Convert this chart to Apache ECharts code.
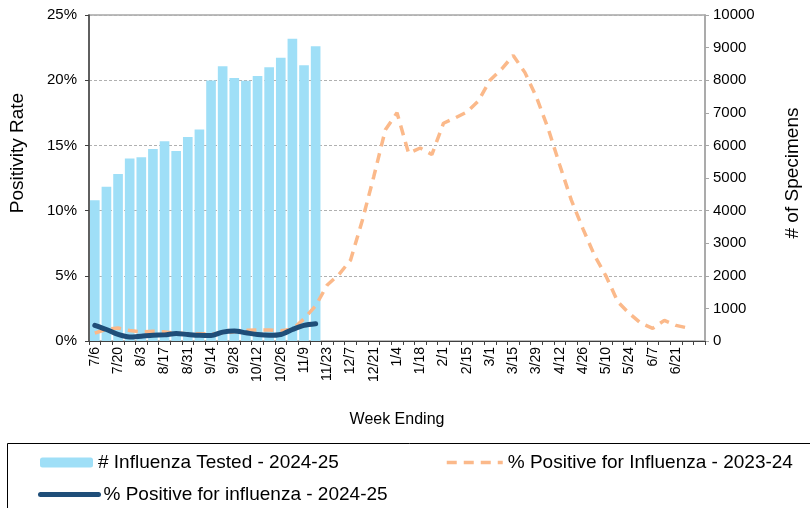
<!DOCTYPE html>
<html>
<head>
<meta charset="utf-8">
<script src="https://cdn.jsdelivr.net/npm/echarts@6/dist/echarts.min.js"></script>
<style>
  html, body { margin: 0; padding: 0; background: #fff; }
  #chart { width: 810px; height: 508px; }
</style>
</head>
<body>
<div id="chart"></div>
<script>
// week ending dates (season runs July to July)
const weeks = ['7/6','7/13','7/20','7/27','8/3','8/10','8/17','8/24','8/31','9/7','9/14','9/21','9/28',
  '10/5','10/12','10/19','10/26','11/2','11/9','11/16','11/23','11/30','12/7','12/14','12/21','12/28',
  '1/4','1/11','1/18','1/25','2/1','2/8','2/15','2/22','3/1','3/8','3/15','3/22','3/29','4/5','4/12',
  '4/19','4/26','5/3','5/10','5/17','5/24','5/31','6/7','6/14','6/21','6/28','7/5'];

// # influenza tested 2024-25 (right axis)
const tested2425 = [4320, 4730, 5120, 5600, 5640, 5890, 6130, 5830, 6260, 6490,
  7990, 8430, 8070, 7980, 8130, 8400, 8690, 9270, 8460, 9040];

// % positive 2024-25 (left axis)
const pos2425 = [1.2, 0.88, 0.5, 0.3, 0.37, 0.45, 0.47, 0.57, 0.5, 0.44,
  0.42, 0.68, 0.76, 0.63, 0.5, 0.44, 0.5, 0.88, 1.2, 1.33];

// % positive 2023-24 (left axis)
const pos2324 = [0.6, 0.9, 1.0, 0.8, 0.7, 0.75, 0.7, 0.6, 0.55, 0.55, 0.55, 0.6, 0.7,
  0.82, 0.85, 0.85, 0.78, 0.9, 1.7, 2.7, 4.3, 5.1, 6.2, 9.2, 12.6, 16.2,
  17.5, 14.4, 14.8, 14.3, 16.7, 17.1, 17.55, 18.4, 20.0, 20.85, 21.9, 20.6, 18.7, 16.3, 13.5,
  10.8, 8.6, 6.55, 4.95, 3.0, 2.1, 1.35, 0.97, 1.58, 1.2, 1.0];

const FONT = 'Liberation Sans, Arial, sans-serif';
const legendText = { fontSize: 19, fontFamily: FONT, color: '#000' };

const myChart = echarts.init(document.getElementById('chart'));
const option = {
  animation: false,
  textStyle: { fontFamily: FONT, color: '#000' },
  grid: {
    left: 89, right: 95, top: 15, bottom: 167,
    show: true, borderColor: '#a6a6a6', borderWidth: 1.5
  },
  legend: [
    {
      data: ['# Influenza Tested - 2024-25'],
      left: 35, top: 448,
      itemWidth: 53, itemHeight: 10,
      textStyle: legendText
    },
    {
      data: ['% Positive for Influenza - 2023-24'],
      left: 440, top: 448,
      itemWidth: 56, itemHeight: 10,
      lineStyle: { width: 3.5 },
      itemStyle: { color: 'transparent', borderWidth: 0 },
      textStyle: legendText
    },
    {
      data: ['% Positive for influenza - 2024-25'],
      left: 33, top: 480,
      itemWidth: 58, itemHeight: 10,
      lineStyle: { width: 5 },
      itemStyle: { color: 'transparent', borderWidth: 0 },
      textStyle: legendText
    }
  ],
  graphic: [
    {
      type: 'rect',
      shape: { x: 7.5, y: 443.5, width: 820, height: 80 },
      style: { fill: 'none', stroke: '#000', lineWidth: 1 }
    }
  ],
  xAxis: {
    type: 'category',
    data: weeks,
    boundaryGap: true,
    name: 'Week Ending',
    nameLocation: 'middle',
    nameGap: 71,
    nameTextStyle: { fontSize: 16, color: '#000' },
    axisLine: { lineStyle: { color: '#404040', width: 1 } },
    axisTick: { show: true, interval: 0, length: 4, lineStyle: { color: '#404040' } },
    axisLabel: {
      interval: function (idx) { return idx % 2 === 0 && idx < 52; },
      rotate: 90, fontSize: 14, color: '#000', margin: 6
    }
  },
  yAxis: [
    {
      type: 'value',
      min: 0, max: 25, interval: 5,
      name: 'Positivity Rate',
      nameLocation: 'middle',
      nameRotate: 90,
      nameGap: 62,
      nameTextStyle: { fontSize: 19, color: '#000', padding: [0, 0, 0, 50] },
      axisLine: { show: true, lineStyle: { color: '#404040', width: 1.5 } },
      axisTick: { show: true, length: 4, lineStyle: { color: '#404040' } },
      axisLabel: { formatter: '{value}%', fontSize: 15, color: '#000', margin: 12 },
      splitLine: { show: true, lineStyle: { color: '#b0b0b0', type: [3, 2] } }
    },
    {
      type: 'value',
      min: 0, max: 10000, interval: 1000,
      name: '# of Specimens',
      nameLocation: 'middle',
      nameRotate: 90,
      nameGap: 78,
      nameTextStyle: { fontSize: 19, color: '#000', padding: [0, 0, 0, 10] },
      axisLine: { show: true, lineStyle: { color: '#a6a6a6', width: 1.5 } },
      axisTick: { show: true, length: 4, lineStyle: { color: '#a6a6a6' } },
      axisLabel: { formatter: function (v) { return String(v); }, fontSize: 15, color: '#000', margin: 8 },
      splitLine: { show: false }
    }
  ],
  series: [
    {
      name: '# Influenza Tested - 2024-25',
      type: 'bar',
      yAxisIndex: 1,
      data: tested2425,
      barCategoryGap: '17%',
      itemStyle: { color: '#9fdff7' }
    },
    {
      name: '% Positive for Influenza - 2023-24',
      type: 'line',
      yAxisIndex: 0,
      data: pos2324,
      symbol: 'none',
      lineStyle: { color: '#fbb98a', width: 3.5, type: [10, 7] },
      itemStyle: { color: '#fbb98a' }
    },
    {
      name: '% Positive for influenza - 2024-25',
      type: 'line',
      yAxisIndex: 0,
      data: pos2425,
      symbol: 'none',
      smooth: 0.3,
      lineStyle: { color: '#1f4e79', width: 5, cap: 'round' },
      itemStyle: { color: '#1f4e79' }
    }
  ]
};
myChart.setOption(option);
window.addEventListener('resize', function () {
  myChart.resize();
});
</script>
</body>
</html>
